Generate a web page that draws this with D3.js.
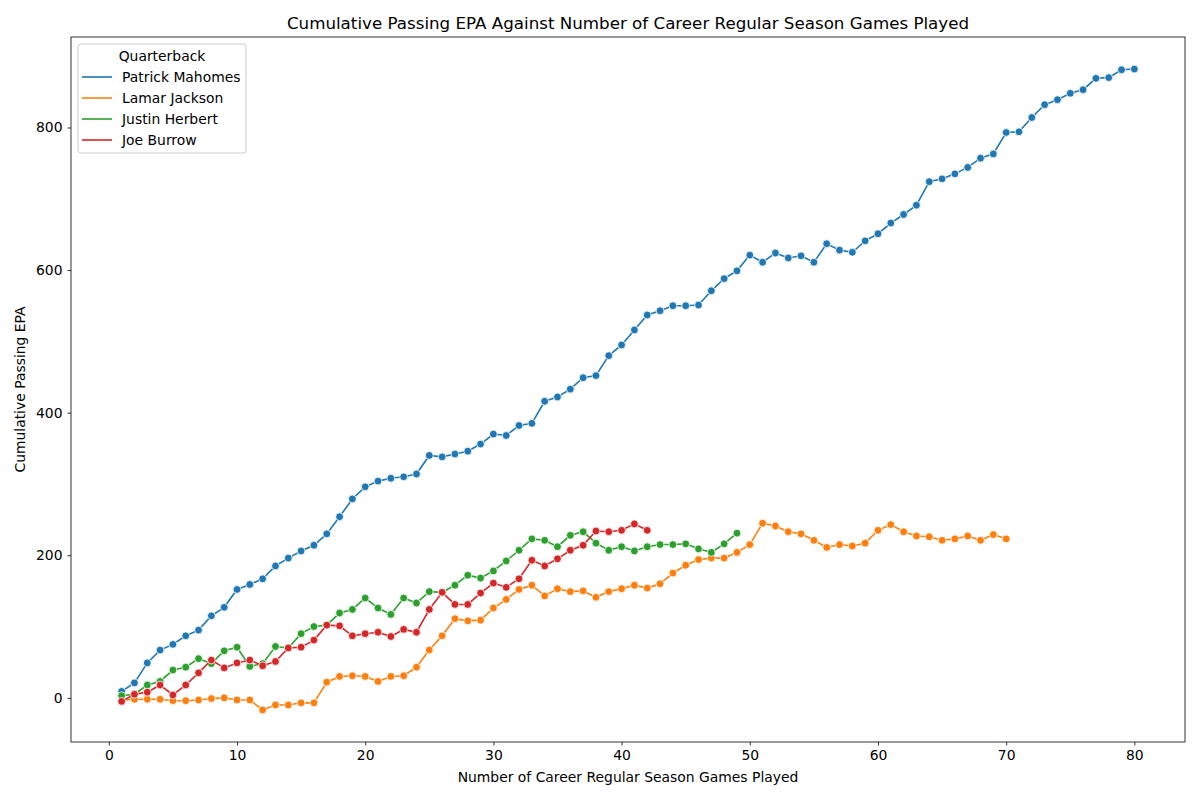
<!DOCTYPE html>
<html>
<head>
<meta charset="utf-8">
<script src="https://cdn.jsdelivr.net/npm/d3@7"></script>
<style>
  body { margin: 0; background: #fff; }
  svg { font-family: "DejaVu Sans", sans-serif; }
</style>
</head>
<body>
<div id="chart"></div>
<script>
// cumulative passing EPA by career game (game 1, 2, 3, ...)
const mahomes = [9, 21, 49, 67, 75, 87, 95, 115, 127, 152, 159, 167, 185, 196, 206, 214, 230, 254, 279, 296,
  304, 308, 310, 314, 340, 338, 342, 346, 356, 370, 368, 382, 385, 416, 422, 433, 449, 452, 480, 495,
  516, 537, 543, 550, 550, 551, 571, 588, 599, 621, 611, 624, 617, 620, 611, 637, 628, 625, 641, 651,
  666, 678, 691, 724, 728, 735, 744, 757, 763, 793, 794, 814, 832, 839, 848, 853, 869, 870, 881, 882];
const lamar = [-3, -2, -2, -2, -4, -4, -3, -1, 0, -3, -3, -17, -10, -10, -7, -7, 22, 30, 31, 30,
  23, 30, 31, 43, 67, 87, 111, 108, 109, 126, 138, 152, 158, 143, 153, 149, 150, 141, 149, 153,
  158, 154, 160, 175, 186, 194, 196, 196, 204, 215, 245, 241, 233, 230, 221, 211, 215, 213, 217, 235,
  243, 233, 227, 226, 221, 223, 227, 221, 229, 223];
const herbert = [3, 5, 18, 23, 39, 43, 55, 48, 66, 71, 44, 48, 72, 70, 90, 100, 102, 119, 124, 140,
  126, 117, 140, 133, 149, 148, 158, 172, 168, 178, 192, 207, 223, 221, 212, 228, 233, 217, 207, 212,
  206, 212, 215, 215, 216, 209, 204, 216, 231];
const burrow = [-5, 5, 8, 18, 4, 18, 35, 53, 42, 49, 53, 45, 51, 70, 71, 81, 102, 101, 87, 90,
  92, 86, 96, 92, 124, 148, 131, 131, 147, 161, 155, 167, 193, 185, 195, 207, 214, 234, 233, 235,
  244, 235];

const players = ["Patrick Mahomes", "Lamar Jackson", "Justin Herbert", "Joe Burrow"];
const playerValues = [mahomes, lamar, herbert, burrow];
const colors = ["#1f77b4", "#ff7f0e", "#2ca02c", "#d62728"];

const xTicks = [0, 10, 20, 30, 40, 50, 60, 70, 80];
const yTicks = [0, 200, 400, 600, 800];

const width = 1200, height = 800;
const margin = { top: 37, right: 15, bottom: 58, left: 71 };
const fontSize = "13.9px";

const series = players.map((name, i) => ({
  name,
  color: colors[i],
  points: playerValues[i].map((v, j) => ({ game: j + 1, epa: v }))
}));

const allPts = series.flatMap(s => s.points);

// matplotlib-style 5% padding around the data
function padded(ext) {
  const pad = (ext[1] - ext[0]) * 0.05;
  return [ext[0] - pad, ext[1] + pad];
}

const x = d3.scaleLinear()
  .domain(padded(d3.extent(allPts, d => d.game)))
  .range([margin.left, width - margin.right]);

const y = d3.scaleLinear()
  .domain(padded(d3.extent(allPts, d => d.epa)))
  .range([height - margin.bottom, margin.top]);

const svg = d3.select("#chart").append("svg")
  .attr("width", width)
  .attr("height", height);

// title
svg.append("text")
  .attr("x", (margin.left + width - margin.right) / 2)
  .attr("y", 29)
  .attr("text-anchor", "middle")
  .attr("font-size", "16.7px")
  .attr("fill", "#000")
  .text("Cumulative Passing EPA Against Number of Career Regular Season Games Played");

// axes
const xAxis = svg.append("g")
  .attr("transform", `translate(0,${height - margin.bottom})`)
  .call(d3.axisBottom(x).tickValues(xTicks).tickSize(3.5).tickPadding(5));

const yAxis = svg.append("g")
  .attr("transform", `translate(${margin.left},0)`)
  .call(d3.axisLeft(y).tickValues(yTicks).tickSize(3.5).tickPadding(5));

[xAxis, yAxis].forEach(a => {
  a.select(".domain").remove();
  a.selectAll("text").attr("font-size", fontSize).attr("fill", "#000")
    .attr("font-family", "DejaVu Sans, sans-serif");
  a.selectAll("line").attr("stroke", "#000").attr("stroke-width", 0.8);
});

// frame
svg.append("rect")
  .attr("x", margin.left)
  .attr("y", margin.top)
  .attr("width", width - margin.left - margin.right)
  .attr("height", height - margin.top - margin.bottom)
  .attr("fill", "none")
  .attr("stroke", "#000")
  .attr("stroke-width", 0.8);

// axis labels
svg.append("text")
  .attr("x", (margin.left + width - margin.right) / 2)
  .attr("y", 782)
  .attr("text-anchor", "middle")
  .attr("font-size", fontSize)
  .text("Number of Career Regular Season Games Played");

svg.append("text")
  .attr("transform", `translate(25,${(margin.top + height - margin.bottom) / 2}) rotate(-90)`)
  .attr("text-anchor", "middle")
  .attr("font-size", fontSize)
  .text("Cumulative Passing EPA");

// lines + markers
const line = d3.line()
  .x(d => x(d.game))
  .y(d => y(d.epa));

const plot = svg.append("g");

series.forEach(s => {
  const g = plot.append("g");
  g.append("path")
    .datum(s.points)
    .attr("d", line)
    .attr("fill", "none")
    .attr("stroke", s.color)
    .attr("stroke-width", 1.6);
  g.selectAll("circle")
    .data(s.points)
    .enter()
    .append("circle")
    .attr("cx", d => x(d.game))
    .attr("cy", d => y(d.epa))
    .attr("r", 3.9)
    .attr("fill", s.color)
    .attr("stroke", "#fff")
    .attr("stroke-width", 0.8);
});

// legend
const legend = svg.append("g").attr("transform", "translate(78,44)");
legend.append("rect")
  .attr("width", 168)
  .attr("height", 109)
  .attr("rx", 3)
  .attr("fill", "#fff")
  .attr("fill-opacity", 0.8)
  .attr("stroke", "#ccc")
  .attr("stroke-width", 1);

legend.append("text")
  .attr("x", 84)
  .attr("y", 17)
  .attr("text-anchor", "middle")
  .attr("font-size", fontSize)
  .text("Quarterback");

const items = legend.selectAll(".item")
  .data(series)
  .enter()
  .append("g")
  .attr("transform", (d, i) => `translate(0,${33 + i * 21})`);

items.append("line")
  .attr("x1", 4).attr("x2", 34)
  .attr("y1", 0).attr("y2", 0)
  .attr("stroke", d => d.color)
  .attr("stroke-width", 1.6);

items.append("text")
  .attr("x", 44)
  .attr("y", 5)
  .attr("font-size", fontSize)
  .text(d => d.name);
</script>
</body>
</html>
